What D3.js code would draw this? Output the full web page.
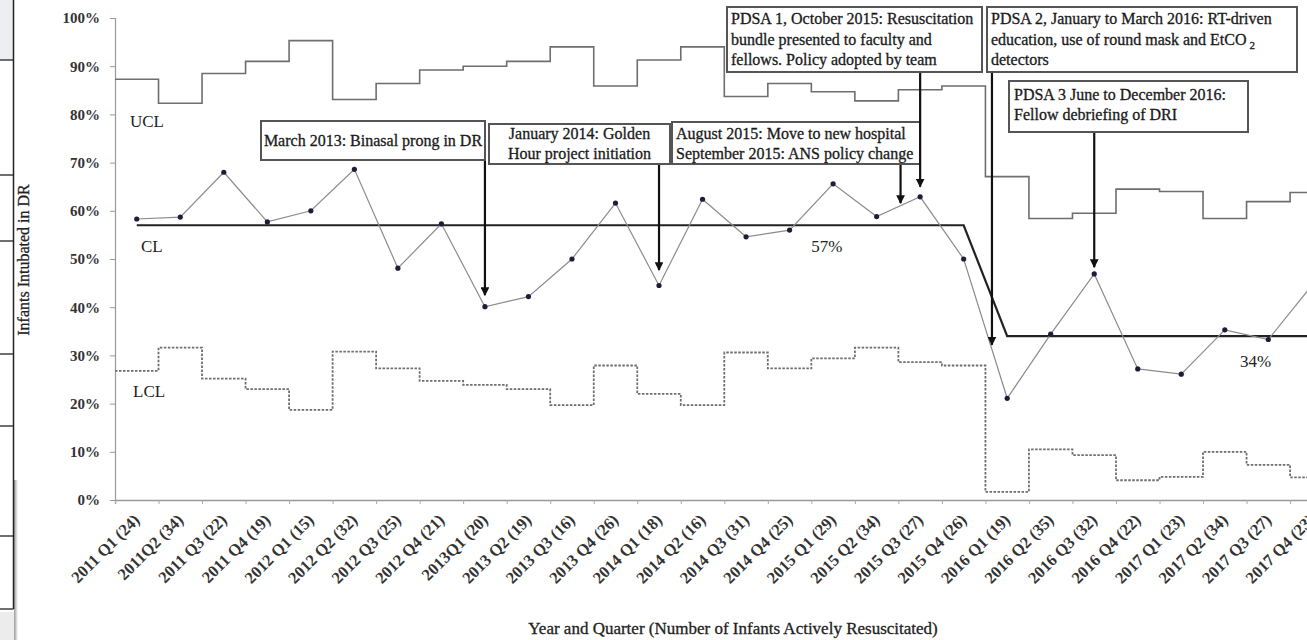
<!DOCTYPE html>
<html>
<head>
<meta charset="utf-8">
<script src="https://cdn.jsdelivr.net/npm/d3@7"></script>
<style>
  html, body { margin: 0; padding: 0; background: #fff; }
  svg { display: block; }
  text { font-family: "Liberation Serif", "Times New Roman", serif; }
</style>
</head>
<body>
<svg id="chart" width="1307" height="640"></svg>
<script>
// ---------- DATA ----------
const categories = [
  "2011 Q1 (24)", "2011Q2 (34)", "2011 Q3 (22)", "2011 Q4 (19)",
  "2012 Q1 (15)", "2012 Q2 (32)", "2012 Q3 (25)", "2012 Q4 (21)",
  "2013Q1 (20)", "2013 Q2 (19)", "2013 Q3 (16)", "2013 Q4 (26)",
  "2014 Q1 (18)", "2014 Q2 (16)", "2014 Q3 (31)", "2014 Q4 (25)",
  "2015 Q1 (29)", "2015 Q2 (34)", "2015 Q3 (27)", "2015 Q4 (26)",
  "2016 Q1 (19)", "2016 Q2 (35)", "2016 Q3 (32)", "2016 Q4  (22)",
  "2017 Q1 (23)", "2017 Q2 (34)", "2017 Q3 (27)", "2017 Q4 (23)"
];
// percent of infants intubated in DR
const pctIntubated = [58.3, 58.7, 68.0, 57.7, 60.0, 68.6, 48.1, 57.3,
  40.1, 42.2, 50.0, 61.6, 44.5, 62.4, 54.6, 56.0,
  65.6, 58.8, 62.9, 50.0, 21.1, 34.4, 46.9, 27.2,
  26.1, 35.3, 33.3, 44.5];
const ucl = [87.3, 82.3, 88.5, 91.0, 95.3, 83.1, 86.4, 89.2,
  90.0, 91.0, 94.0, 85.9, 91.3, 94.0, 83.7, 86.4,
  84.7, 82.8, 85.1, 85.9, 67.1, 58.4, 59.5, 64.5,
  64.0, 58.4, 61.9, 63.8];
const lcl = [26.8, 31.6, 25.2, 23.0, 18.7, 30.8, 27.3, 24.7,
  23.9, 23.0, 19.7, 27.9, 22.0, 19.7, 30.6, 27.3,
  29.4, 31.6, 28.6, 27.9, 1.7, 10.5, 9.3, 4.1,
  4.8, 10.0, 7.3, 4.7];
const centerLine = [57, 57, 57, 57, 57, 57, 57, 57, 57, 57, 57, 57, 57, 57,
  57, 57, 57, 57, 57, 57, 34, 34, 34, 34, 34, 34, 34, 34];
const yTicks = [0, 10, 20, 30, 40, 50, 60, 70, 80, 90, 100];
const clLabels = ["57%", "34%"];

// annotations: arrow at (quarter index position, percent tip)
const annotations = [
  { lines: ["March 2013: Binasal prong in DR"], at: 8.5, tip: 42.5 },
  { lines: ["January 2014: Golden", "Hour project initiation"], at: 12.5, tip: 47.7 },
  { lines: ["August 2015: Move to new hospital", "September 2015: ANS policy change"], at: 18.05, tip: 61.6 },
  { lines: ["PDSA 1, October 2015: Resuscitation", "bundle presented to faculty and", "fellows. Policy adopted by team"], at: 18.5, tip: 65.0 },
  { lines: ["PDSA 2, January to March 2016: RT-driven", "education, use of round mask and EtCO", "detectors"], at: 20.15, tip: 32.2, sub: { line: 1, text: "2" } },
  { lines: ["PDSA 3 June to December 2016:", "Fellow debriefing of  DRI"], at: 22.5, tip: 48.3 }
];

// ---------- LAYOUT ----------
const W = 1307, H = 640;
const plot = { left: 115, right: 1333.6, top: 18, bottom: 500 };
const boxLayout = [
  { x0: 261, y0: 121, x1: 485, y1: 160, align: "middle", base: 146, step: 20 },
  { x0: 489, y0: 124, x1: 670, y1: 164, align: "middle", base: 139, step: 20 },
  { x0: 672, y0: 122, x1: 920, y1: 164, align: "start", tx: 676, base: 139, step: 20 },
  { x0: 727, y0: 7, x1: 982, y1: 72, align: "start", tx: 731, base: 24, step: 20.5 },
  { x0: 987, y0: 7, x1: 1297, y1: 72, align: "start", tx: 991, base: 24, step: 20.5 },
  { x0: 1009, y0: 81, x1: 1248, y1: 132, align: "start", tx: 1014, base: 100, step: 20 }
];

const svg = d3.select("#chart");
svg.append("rect").attr("width", W).attr("height", H).attr("fill", "#fff");
const defs = svg.append("defs");

// left page decoration (document table edge)
const deco = svg.append("g");
deco.append("rect").attr("x", 0).attr("y", 0).attr("width", 13).attr("height", 60).attr("fill", "#eceef2");
deco.append("rect").attr("x", 0).attr("y", 612).attr("width", 15).attr("height", 28).attr("fill", "#ececec");
const grad = defs.append("linearGradient").attr("id", "shade").attr("x1", 0).attr("x2", 1);
grad.append("stop").attr("offset", 0).attr("stop-color", "#9a9a9a");
grad.append("stop").attr("offset", 1).attr("stop-color", "#ffffff");
deco.append("rect").attr("x", 14).attr("y", 480).attr("width", 4).attr("height", 160).attr("fill", "url(#shade)");
deco.append("line").attr("x1", 13.5).attr("x2", 13.5).attr("y1", 0).attr("y2", 609)
  .attr("stroke", "#222").attr("stroke-width", 1.5);
[60, 175, 241, 354, 426, 536, 609].forEach(yy => {
  deco.append("line").attr("x1", 0).attr("x2", 13.5).attr("y1", yy).attr("y2", yy)
    .attr("stroke", "#222").attr("stroke-width", 1.3);
});

// ---------- SCALES ----------
const x = d3.scaleBand().domain(categories).range([plot.left, plot.right]).padding(0);
const xi = d3.scaleLinear().domain([0, categories.length]).range([plot.left, plot.right]);
const y = d3.scaleLinear().domain([0, 100]).range([plot.bottom, plot.top]);
const cx = i => x(categories[i]) + x.bandwidth() / 2;

// ---------- AXES ----------
const yAxis = d3.axisLeft(y).tickValues(yTicks).tickFormat(d => d + "%").tickSize(5).tickPadding(10);
const gy = svg.append("g").attr("transform", `translate(${plot.left},0)`).call(yAxis);
gy.select(".domain").attr("stroke", "#999").attr("stroke-width", 1.2);
gy.selectAll(".tick line").attr("stroke", "#999");
gy.selectAll(".tick text").attr("fill", "#333").attr("font-size", 15).attr("font-weight", "bold")
  .style("font-family", '"Liberation Serif", serif');

const xAxis = d3.axisBottom(xi).tickValues(d3.range(0, categories.length + 1)).tickSize(4).tickFormat("");
const gx = svg.append("g").attr("transform", `translate(0,${plot.bottom})`).call(xAxis);
gx.select(".domain").attr("stroke", "#999").attr("stroke-width", 1.5);
gx.selectAll(".tick line").attr("stroke", "#aaa");

svg.append("g").selectAll("text").data(categories).join("text")
  .attr("transform", (d, i) => `translate(${cx(i) + 4},${plot.bottom + 21}) rotate(-45)`)
  .attr("text-anchor", "end")
  .attr("font-size", 16.5).attr("font-weight", "bold").attr("fill", "#333")
  .text(d => d);

svg.append("text").attr("x", 733).attr("y", 634).attr("text-anchor", "middle")
  .attr("font-size", 17).attr("fill", "#222").attr("stroke", "#222").attr("stroke-width", 0.3)
  .text("Year and Quarter (Number of Infants Actively Resuscitated)");
svg.append("text").attr("transform", "translate(29,260) rotate(-90)").attr("text-anchor", "middle")
  .attr("font-size", 16).attr("fill", "#222").attr("stroke", "#222").attr("stroke-width", 0.3)
  .text("Infants Intubated in DR");

// ---------- CONTROL LIMITS ----------
const stepData = arr => arr.map((v, i) => [i, v]).concat([[arr.length, arr[arr.length - 1]]]);
const stepLine = d3.line().x(d => xi(d[0])).y(d => y(d[1])).curve(d3.curveStepAfter);
svg.append("path").attr("d", stepLine(stepData(ucl)))
  .attr("fill", "none").attr("stroke", "#6e6e6e").attr("stroke-width", 1.6);
svg.append("path").attr("d", stepLine(stepData(lcl)))
  .attr("fill", "none").attr("stroke", "#6e6e6e").attr("stroke-width", 1.8).attr("stroke-dasharray", "2.5,1.5");

// center line
const ptLine = d3.line().x((d, i) => cx(i)).y(d => y(d));
svg.append("path").attr("d", ptLine(centerLine))
  .attr("fill", "none").attr("stroke", "#222").attr("stroke-width", 2.2);

// data line
svg.append("path").attr("d", ptLine(pctIntubated))
  .attr("fill", "none").attr("stroke", "#8c8c8c").attr("stroke-width", 1.2);
svg.append("g").selectAll("circle").data(pctIntubated).join("circle")
  .attr("cx", (d, i) => cx(i)).attr("cy", d => y(d)).attr("r", 2.6).attr("fill", "#1d1d3a");

// labels
const lab = svg.append("g").attr("font-size", 17).attr("fill", "#222");
lab.append("text").attr("x", 130).attr("y", 127).text("UCL");
lab.append("text").attr("x", 141).attr("y", 252).text("CL");
lab.append("text").attr("x", 133).attr("y", 397).text("LCL");
lab.append("text").attr("x", xi(16.0)).attr("y", y(centerLine[0]) + 27).text(clLabels[0]);
lab.append("text").attr("x", xi(25.85)).attr("y", y(centerLine[27]) + 31).text(clLabels[1]);

// ---------- ANNOTATIONS ----------
defs.append("marker").attr("id", "arrow").attr("viewBox", "0 0 10 10")
  .attr("refX", 9).attr("refY", 5).attr("markerWidth", 4).attr("markerHeight", 4)
  .attr("markerUnits", "strokeWidth").attr("orient", "auto")
  .append("path").attr("d", "M0,0 L10,5 L0,10 z").attr("fill", "#111");

annotations.forEach((a, k) => {
  const b = boxLayout[k];
  const g = svg.append("g");
  g.append("line").attr("x1", xi(a.at)).attr("x2", xi(a.at)).attr("y1", b.y1).attr("y2", y(a.tip))
    .attr("stroke", "#111").attr("stroke-width", 2.2).attr("marker-end", "url(#arrow)");
  g.append("rect").attr("x", b.x0).attr("y", b.y0).attr("width", b.x1 - b.x0).attr("height", b.y1 - b.y0)
    .attr("fill", "#fff").attr("stroke", "#555").attr("stroke-width", 2);
  const tx = b.align === "middle" ? (b.x0 + b.x1) / 2 : b.tx;
  a.lines.forEach((ln, j) => {
    const t = g.append("text").attr("x", tx).attr("y", b.base + j * b.step)
      .attr("text-anchor", b.align).attr("font-size", 16).attr("fill", "#1a1a1a")
      .attr("stroke", "#1a1a1a").attr("stroke-width", 0.3).text(ln);
    if (a.sub && a.sub.line === j) {
      t.append("tspan").attr("font-size", 11).attr("dx", 3).attr("dy", 4).text(a.sub.text);
    }
  });
});
</script>
</body>
</html>
